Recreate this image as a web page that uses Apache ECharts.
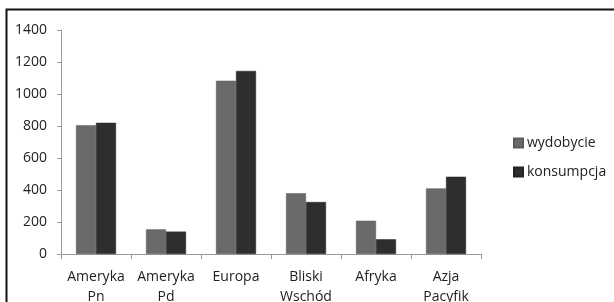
<!DOCTYPE html>
<html>
<head>
<meta charset="utf-8">
<script src="https://cdn.jsdelivr.net/npm/echarts@6/dist/echarts.min.js"></script>
<style>
  html, body { margin: 0; padding: 0; background: #fff; }
  #chart { width: 614px; height: 302px; }
</style>
</head>
<body>
<div id="chart"></div>
<script>
const categories = ['Ameryka\nPn', 'Ameryka\nPd', 'Europa', 'Bliski\nWschód', 'Afryka', 'Azja\nPacyfik'];
const wydobycie = [805, 154, 1083, 379, 208, 410];
const konsumpcja = [820, 140, 1144, 325, 92, 483];
const yTicks = { min: 0, max: 1400, interval: 200 };

const chart = echarts.init(document.getElementById('chart'));
const font = '"Open Sans", Lato, sans-serif';

chart.setOption({
  animation: false,
  textStyle: { fontFamily: font },
  graphic: [{
    type: 'rect',
    shape: { x: 6.5, y: 9.5, width: 640, height: 320 },
    style: { fill: 'none', stroke: '#111', lineWidth: 2 },
    silent: true
  }],
  grid: { left: 61, right: 133, top: 30, bottom: 48, outerBoundsMode: 'none' },
  legend: {
    orient: 'vertical',
    left: 513,
    top: 136,
    padding: 0,
    itemWidth: 9,
    itemHeight: 9,
    itemGap: 15,
    icon: 'rect',
    textStyle: { fontSize: 14, color: '#222', padding: [0, 0, 0, -1], fontFamily: font },
    data: ['wydobycie', 'konsumpcja']
  },
  xAxis: {
    type: 'category',
    data: categories,
    axisLine: { lineStyle: { color: '#9a9a9a', width: 1 } },
    axisTick: { show: true, length: 5, lineStyle: { color: '#9a9a9a' } },
    axisLabel: { fontSize: 14, color: '#222', lineHeight: 20, margin: 13, interval: 0 },
    splitLine: { show: false }
  },
  yAxis: {
    type: 'value',
    min: yTicks.min,
    max: yTicks.max,
    interval: yTicks.interval,
    axisLine: { show: true, lineStyle: { color: '#9a9a9a', width: 1 } },
    axisTick: { show: true, length: 4, inside: false, lineStyle: { color: '#9a9a9a' } },
    axisLabel: { fontSize: 14, color: '#222', margin: 14, formatter: v => String(v) },
    splitLine: { show: false }
  },
  series: [
    {
      name: 'wydobycie',
      type: 'bar',
      data: wydobycie,
      barWidth: 20,
      barGap: '0%',
      itemStyle: { color: '#6a6a6a', borderColor: '#5a5a5a', borderWidth: 0.5 }
    },
    {
      name: 'konsumpcja',
      type: 'bar',
      data: konsumpcja,
      barWidth: 20,
      itemStyle: { color: '#2e2e2e', borderColor: '#222', borderWidth: 0.5 }
    }
  ]
});
</script>
</body>
</html>
